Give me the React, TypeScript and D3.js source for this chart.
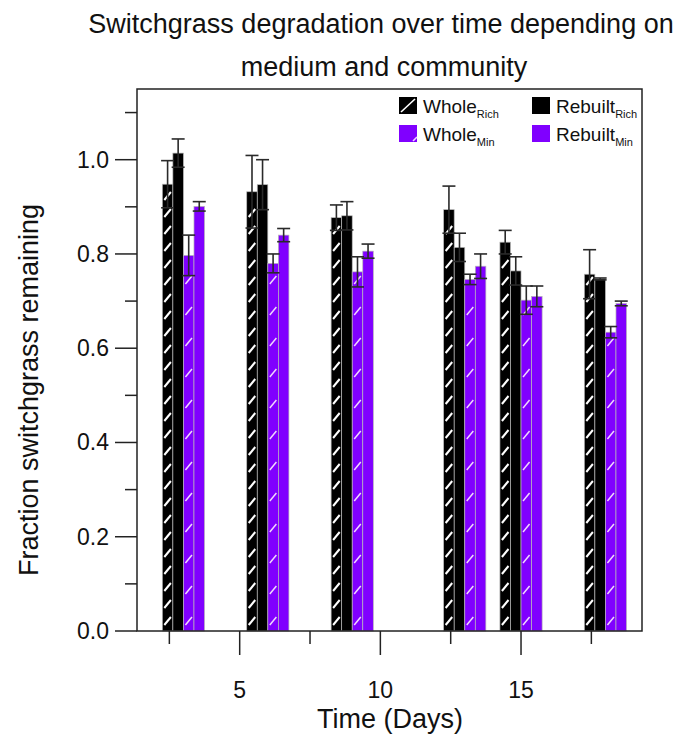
import * as d3 from "d3";

// Time points (days) and the four series
const days = [3, 6, 9, 13, 15, 18];
const seriesNames = ["WholeRich", "RebuiltRich", "WholeMin", "RebuiltMin"];

const wholeRich = [0.948, 0.932, 0.877, 0.894, 0.825, 0.757];
const wholeRichErr = [0.05, 0.077, 0.027, 0.05, 0.025, 0.052];
const rebuiltRich = [1.014, 0.947, 0.881, 0.814, 0.764, 0.747];
const rebuiltRichErr = [0.03, 0.053, 0.03, 0.03, 0.03, 0.002];
const wholeMin = [0.797, 0.78, 0.762, 0.746, 0.702, 0.634];
const wholeMinErr = [0.043, 0.02, 0.032, 0.011, 0.03, 0.012];
const rebuiltMin = [0.901, 0.84, 0.806, 0.774, 0.71, 0.695];
const rebuiltMinErr = [0.01, 0.014, 0.015, 0.026, 0.022, 0.005];

const yMajor = [0, 0.2, 0.4, 0.6, 0.8, 1.0];
const yMinor = [0.1, 0.3, 0.5, 0.7, 0.9, 1.1];
const xMajor = [5, 10, 15];
const xMinor = [2.5, 7.5, 12.5, 17.5];

const BLACK = "#000000";
const PURPLE = "#8000ff";
const FONT = "'Liberation Sans', Arial, sans-serif";

const values = [wholeRich, rebuiltRich, wholeMin, rebuiltMin];
const errors = [wholeRichErr, rebuiltRichErr, wholeMinErr, rebuiltMinErr];
const fills = [BLACK, BLACK, PURPLE, PURPLE];
const hatched = [true, false, true, false];

export default function App() {
  const width = 676;
  const height = 735;
  const plot = { left: 137, right: 642, top: 89, bottom: 631 };

  const x = d3.scaleLinear().domain([1.35, 19.3]).range([plot.left, plot.right]);
  const y = d3.scaleLinear().domain([0, 1.15]).range([plot.bottom, plot.top]);
  const barW = 0.375; // days per bar

  const bars = days.flatMap((d, gi) =>
    seriesNames.map((name, si) => {
      const x0 = x(d - 2 * barW + si * barW);
      const x1 = x(d - 2 * barW + (si + 1) * barW);
      const v = values[si][gi];
      const e = errors[si][gi];
      return { key: `${name}-${d}`, si, x0, x1, v, e };
    })
  );

  return (
    <svg
      width={width}
      height={height}
      style={{ position: "absolute", left: 0, top: 0, background: "#fff" }}
      fontFamily={FONT}
    >
      {/* title */}
      <text x={381} y={33} textAnchor="middle" fontSize={27} fill="#111">
        Switchgrass degradation over time depending on
      </text>
      <text x={384} y={76} textAnchor="middle" fontSize={27} fill="#111">
        medium and community
      </text>

      {/* bars */}
      {bars.map((b) => {
        const top = y(b.v);
        const bw = b.x1 - b.x0;
        const step = b.si === 0 ? 17 : 31;
        const dashes: number[] = [];
        if (hatched[b.si]) {
          for (let cy = plot.bottom - 10; cy - 5 > top; cy -= step) dashes.push(cy);
        }
        return (
          <g key={b.key}>
            <rect
              x={b.x0}
              y={top}
              width={bw}
              height={plot.bottom - top}
              fill={fills[b.si]}
              stroke="#b8b8b8"
              strokeWidth={0.7}
            />
            {dashes.map((cy) => (
              <line
                key={cy}
                x1={b.x0 + 2}
                x2={b.x1 - 2}
                y1={cy + 4}
                y2={cy - 4}
                stroke={b.si === 0 ? "#ffffff" : "#f1d6ff"}
                strokeWidth={b.si === 0 ? 2 : 1.5}
              />
            ))}
          </g>
        );
      })}

      {/* error bars */}
      {bars.map((b) => {
        const cx = (b.x0 + b.x1) / 2;
        const yHi = y(b.v + b.e);
        const yLo = y(b.v - b.e);
        return (
          <g key={`err-${b.key}`} stroke="#2a2a2a" strokeWidth={1.6}>
            <line x1={cx} x2={cx} y1={yHi} y2={yLo} />
            <line x1={cx - 6.5} x2={cx + 6.5} y1={yHi} y2={yHi} />
            <line x1={cx - 6.5} x2={cx + 6.5} y1={yLo} y2={yLo} />
          </g>
        );
      })}

      {/* frame */}
      <rect
        x={plot.left}
        y={plot.top}
        width={plot.right - plot.left}
        height={plot.bottom - plot.top}
        fill="none"
        stroke="#222"
        strokeWidth={1.5}
      />

      {/* y axis ticks */}
      {yMajor.map((t) => (
        <g key={`ym-${t}`}>
          <line x1={plot.left - 22} x2={plot.left} y1={y(t)} y2={y(t)} stroke="#222" strokeWidth={1.5} />
          <text x={plot.left - 28} y={y(t) + 8} textAnchor="end" fontSize={23} fill="#111">
            {t.toFixed(1)}
          </text>
        </g>
      ))}
      {yMinor.map((t) => (
        <line key={`yn-${t}`} x1={plot.left - 12} x2={plot.left} y1={y(t)} y2={y(t)} stroke="#222" strokeWidth={1.5} />
      ))}

      {/* x axis ticks */}
      {xMajor.map((t) => (
        <g key={`xm-${t}`}>
          <line x1={x(t)} x2={x(t)} y1={plot.bottom} y2={plot.bottom + 24} stroke="#222" strokeWidth={1.5} />
          <text x={x(t)} y={plot.bottom + 67} textAnchor="middle" fontSize={23} fill="#111">
            {t}
          </text>
        </g>
      ))}
      {xMinor.map((t) => (
        <line key={`xn-${t}`} x1={x(t)} x2={x(t)} y1={plot.bottom} y2={plot.bottom + 13} stroke="#222" strokeWidth={1.5} />
      ))}

      {/* axis titles */}
      <text x={390} y={728} textAnchor="middle" fontSize={27} fill="#111">
        Time (Days)
      </text>
      <text
        transform={`translate(38,390) rotate(-90)`}
        textAnchor="middle"
        fontSize={27}
        fill="#111"
      >
        Fraction switchgrass remaining
      </text>

      {/* legend */}
      <g fontSize={19} fill="#111">
        {/* Whole Rich */}
        <rect x={399} y={97} width={18} height={17} fill={BLACK} />
        <line x1={401} y1={112} x2={415} y2={99} stroke="#fff" strokeWidth={1.6} />
        <text x={423} y={113}>
          Whole<tspan fontSize={11} dy={5}>Rich</tspan>
        </text>
        {/* Whole Min */}
        <rect x={399} y={125} width={18} height={17} fill={PURPLE} />
        <line x1={413} y1={141} x2={417} y2={137} stroke="#f1d6ff" strokeWidth={1.6} />
        <text x={423} y={141}>
          Whole<tspan fontSize={11} dy={5}>Min</tspan>
        </text>
        {/* Rebuilt Rich */}
        <rect x={532} y={97} width={18} height={17} fill={BLACK} />
        <text x={556} y={113}>
          Rebuilt<tspan fontSize={11} dy={5}>Rich</tspan>
        </text>
        {/* Rebuilt Min */}
        <rect x={532} y={125} width={18} height={17} fill={PURPLE} />
        <text x={556} y={141}>
          Rebuilt<tspan fontSize={11} dy={5}>Min</tspan>
        </text>
      </g>
    </svg>
  );
}
